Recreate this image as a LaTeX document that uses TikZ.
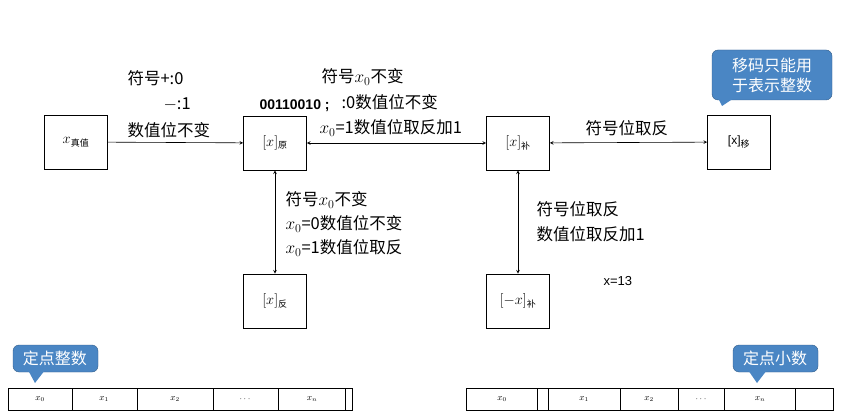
\documentclass[tikz,border=0pt]{standalone}
\usepackage{fontspec}
\newfontfamily\cjk{Noto Sans CJK SC}
\newfontfamily\sans{Liberation Sans}
\definecolor{cb}{RGB}{74,134,196}
\begin{document}
\begin{tikzpicture}[x=1pt,y=-1pt,
 box/.style={draw,thick,minimum width=63pt,minimum height=54pt,inner sep=0,font=\Large},
 lab/.style={font=\cjk\fontsize{16.5}{18}\selectfont,align=left},
 arr/.style={<->,>=stealth,semithick},
 call/.style={fill=cb,draw=cb!70!black,rounded corners=6pt}]
\useasboundingbox (0,0) rectangle (859,414);
\fill[white] (0,0) rectangle (859,414);
\node[box] (t) at (76,142) {$x_{\mbox{\cjk\small 真值}}$};
\node[box] (y) at (275,143) {$[x]_{\mbox{\cjk\small 原}}$};
\node[box] (b) at (518,143) {$[x]_{\mbox{\cjk\small 补}}$};
\node[box,font=\large] (m) at (739,142) {{\sans [x]}$_{\mbox{\cjk\small 移}}$};
\node[box] (f) at (275,301) {$[x]_{\mbox{\cjk\small 反}}$};
\node[box] (nb) at (518,301) {$[-x]_{\mbox{\cjk\small 补}}$};
\draw[->,>=stealth,semithick] (t) -- (y);
\draw[arr] (y) -- (b);
\draw[arr] (b) -- (m);
\draw[arr] (y) -- (f);
\draw[arr] (b) -- (nb);
\node[lab,anchor=west] (l1) at (124,78) {符号+:0};
\node[lab,anchor=west] (l2) at (160,104) {$-$:1};
\node[lab,anchor=west] (l3) at (124,130) {数值位不变};
\node[lab,anchor=west] (l4) at (318,77) {符号$x_0$不变};
\node[font=\sans\bfseries\fontsize{14}{16}\selectfont,anchor=west] (l5) at (256,106) {00110010 ;};
\node[lab,anchor=west] (l6) at (338,102) {:0数值位不变};
\node[lab,anchor=west] (l7) at (316,128) {$x_0$=1数值位取反加1};
\node[lab,anchor=west] (l8) at (582,128) {符号位取反};
\node[lab,anchor=west] (l9) at (282,200) {符号$x_0$不变};
\node[lab,anchor=west] (l10) at (282,224) {$x_0$=0数值位不变};
\node[lab,anchor=west] (l11) at (282,248) {$x_0$=1数值位取反};
\node[lab,anchor=west] (l12) at (533,209) {符号位取反};
\node[lab,anchor=west] (l13) at (533,234) {数值位取反加1};
\node[font=\sans\fontsize{13}{15}\selectfont,anchor=west] (l14) at (600,281) {x=13};
% callouts
\draw[call] (712,50) rectangle (832,100);
\fill[cb] (718,98) -- (722,106) -- (734,98) -- cycle;
\node[text=white,font=\cjk\fontsize{16}{20}\selectfont,align=center] (c1) at (772,75) {移码只能用\\于表示整数};
\draw[call] (13,345) rectangle (98,372);
\fill[cb] (28,370) -- (35,383) -- (45,370) -- cycle;
\node[text=white,font=\cjk\fontsize{16}{18}\selectfont] (c2) at (55,358) {定点整数};
\draw[call] (733,345) rectangle (818,372);
\fill[cb] (748,370) -- (757,383) -- (767,370) -- cycle;
\node[text=white,font=\cjk\fontsize{16}{18}\selectfont] (c3) at (775,358) {定点小数};
% strips
\draw (8,388) rectangle (352,410);
\foreach \xx in {72,137,213,278,345} \draw (\xx,388) -- (\xx,410);
\foreach \xx/\tt in {40/x_0,104/x_1,175/x_2,245/\cdots,312/x_n} \node[font=\small] at (\xx,399) {$\tt$};
\draw (466,388) rectangle (833,410);
\foreach \xx in {537,548,620,678,724,795} \draw (\xx,388) -- (\xx,410);
\foreach \xx/\tt in {502/x_0,584/x_1,649/x_2,701/\cdots,760/x_n} \node[font=\small] at (\xx,399) {$\tt$};
\end{tikzpicture}
\end{document}
